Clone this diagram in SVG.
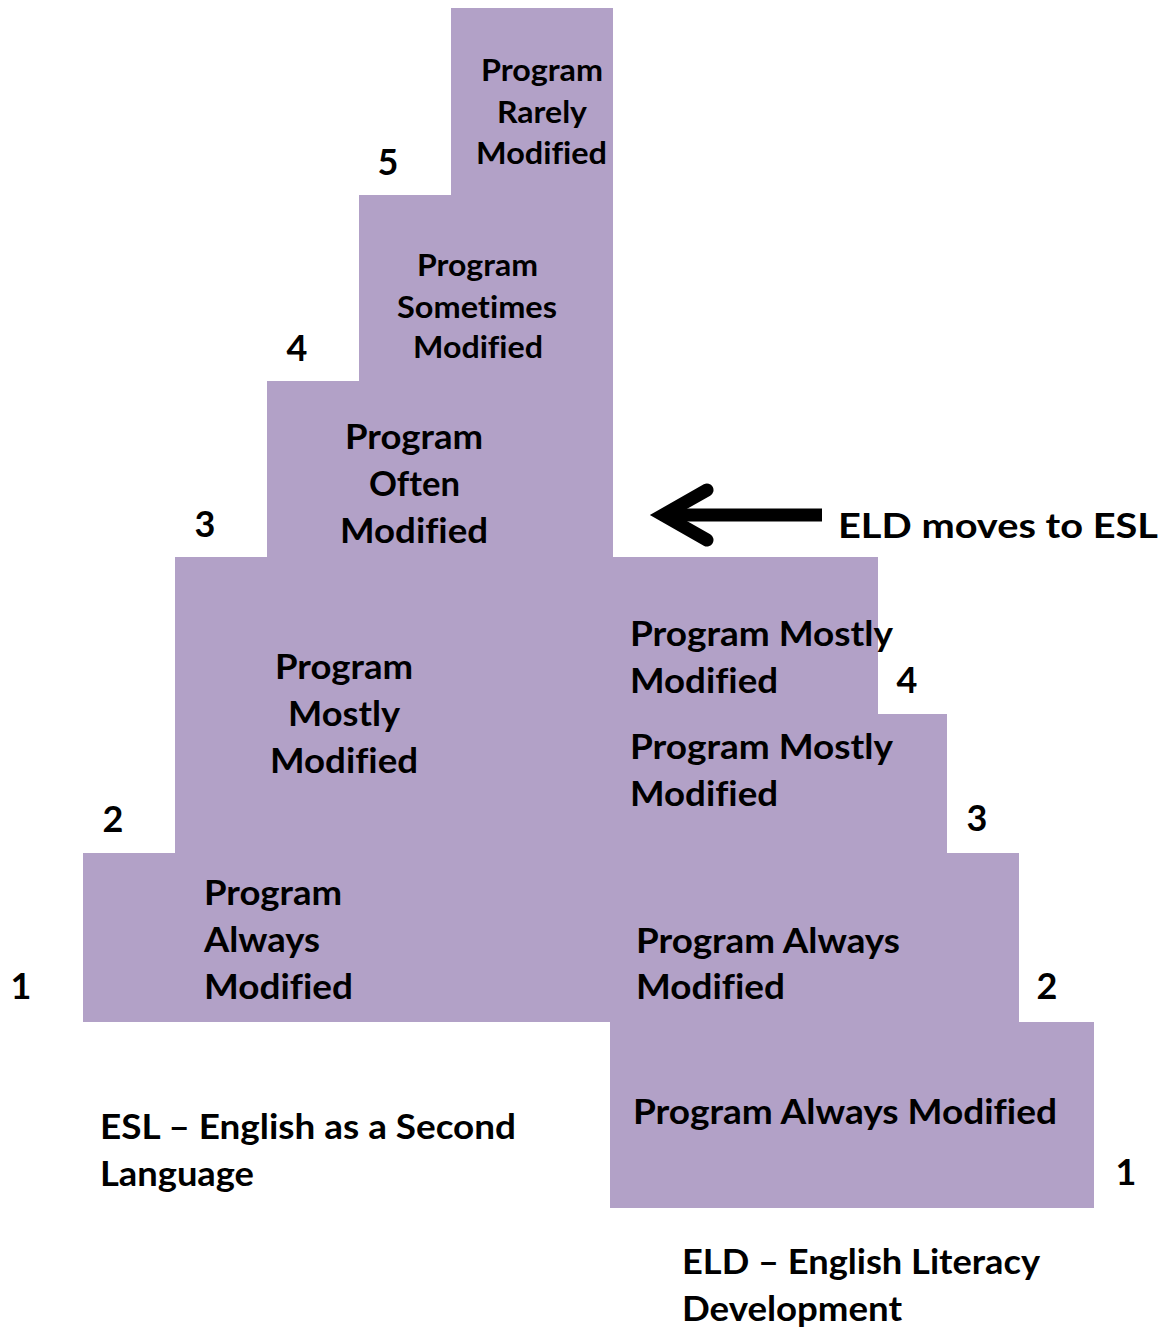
<svg xmlns="http://www.w3.org/2000/svg" width="1170" height="1332" viewBox="0 0 1170 1332">
<style>
  .t { font-family: Lato, "Open Sans", "Liberation Sans", sans-serif; font-weight: bold; fill: #000; font-variant-ligatures: none; }
  .big { font-size: 35px; }
  .sm { font-size: 31px; }
  .num { font-size: 36px; text-anchor: middle; }
  .step { fill: #B2A1C7; }
</style>
<rect width="1170" height="1332" fill="#ffffff"/>
<g id="pyramid">
  <path class="step" d="M451,8 H613 V557 H878 V714 H947 V853 H1019 V1022 H1094 V1208 H610 V1022 H83 V853 H175 V557 H267 V381 H359 V195 H451 Z"/>
</g>
<g id="node-rarely">
  <text class="t sm" x="481" y="81" textLength="122" lengthAdjust="spacingAndGlyphs">Program</text>
  <text class="t sm" x="497" y="123" textLength="90" lengthAdjust="spacingAndGlyphs">Rarely</text>
  <text class="t sm" x="476" y="164" textLength="131" lengthAdjust="spacingAndGlyphs">Modified</text>
</g>
<g id="node-sometimes">
  <text class="t sm" x="417" y="276" textLength="121" lengthAdjust="spacingAndGlyphs">Program</text>
  <text class="t sm" x="397" y="318" textLength="160" lengthAdjust="spacingAndGlyphs">Sometimes</text>
  <text class="t sm" x="413" y="358" textLength="130" lengthAdjust="spacingAndGlyphs">Modified</text>
</g>
<g id="node-often">
  <text class="t big" x="345" y="449" textLength="138" lengthAdjust="spacingAndGlyphs">Program</text>
  <text class="t big" x="369" y="496" textLength="91" lengthAdjust="spacingAndGlyphs">Often</text>
  <text class="t big" x="340" y="543" textLength="148" lengthAdjust="spacingAndGlyphs">Modified</text>
</g>
<g id="node-esl-mostly">
  <text class="t big" x="275" y="679" textLength="138" lengthAdjust="spacingAndGlyphs">Program</text>
  <text class="t big" x="288" y="726" textLength="112" lengthAdjust="spacingAndGlyphs">Mostly</text>
  <text class="t big" x="270" y="773" textLength="148" lengthAdjust="spacingAndGlyphs">Modified</text>
</g>
<g id="node-esl-always">
  <text class="t big" x="204" y="905" textLength="138" lengthAdjust="spacingAndGlyphs">Program</text>
  <text class="t big" x="204" y="952" textLength="116" lengthAdjust="spacingAndGlyphs">Always</text>
  <text class="t big" x="204" y="999" textLength="149" lengthAdjust="spacingAndGlyphs">Modified</text>
</g>
<g id="node-eld-mostly-4">
  <text class="t big" x="630" y="646" textLength="263" lengthAdjust="spacingAndGlyphs">Program Mostly</text>
  <text class="t big" x="630" y="693" textLength="148" lengthAdjust="spacingAndGlyphs">Modified</text>
</g>
<g id="node-eld-mostly-3">
  <text class="t big" x="630" y="759" textLength="263" lengthAdjust="spacingAndGlyphs">Program Mostly</text>
  <text class="t big" x="630" y="806" textLength="148" lengthAdjust="spacingAndGlyphs">Modified</text>
</g>
<g id="node-eld-always-2">
  <text class="t big" x="636" y="953" textLength="264" lengthAdjust="spacingAndGlyphs">Program Always</text>
  <text class="t big" x="636" y="999" textLength="149" lengthAdjust="spacingAndGlyphs">Modified</text>
</g>
<g id="node-eld-always-1">
  <text class="t big" x="633" y="1124" textLength="424" lengthAdjust="spacingAndGlyphs">Program Always Modified</text>
</g>
<g id="levels">
  <text class="t num" x="388" y="175">5</text>
  <text class="t num" x="297" y="361">4</text>
  <text class="t num" x="205" y="537">3</text>
  <text class="t num" x="113" y="832">2</text>
  <text class="t num" x="21" y="999">1</text>
  <text class="t num" x="907" y="693">4</text>
  <text class="t num" x="977" y="831">3</text>
  <text class="t num" x="1047" y="999">2</text>
  <text class="t num" x="1126" y="1185">1</text>
</g>
<g id="connectors">
  <line x1="822" y1="515" x2="672" y2="515" stroke="#000" stroke-width="13"/>
  <polyline points="707,490 663,515 707,540" fill="none" stroke="#000" stroke-width="13" stroke-linecap="round" stroke-linejoin="miter"/>
</g>
<g id="label-arrow">
  <text class="t big" x="838" y="538" textLength="320" lengthAdjust="spacingAndGlyphs">ELD moves to ESL</text>
</g>
<g id="legend-esl">
  <text class="t big" x="100" y="1139" textLength="416" lengthAdjust="spacingAndGlyphs">ESL – English as a Second</text>
  <text class="t big" x="100" y="1186" textLength="154" lengthAdjust="spacingAndGlyphs">Language</text>
</g>
<g id="legend-eld">
  <text class="t big" x="682" y="1274" textLength="358" lengthAdjust="spacingAndGlyphs">ELD – English Literacy</text>
  <text class="t big" x="682" y="1321" textLength="220" lengthAdjust="spacingAndGlyphs">Development</text>
</g>
</svg>
